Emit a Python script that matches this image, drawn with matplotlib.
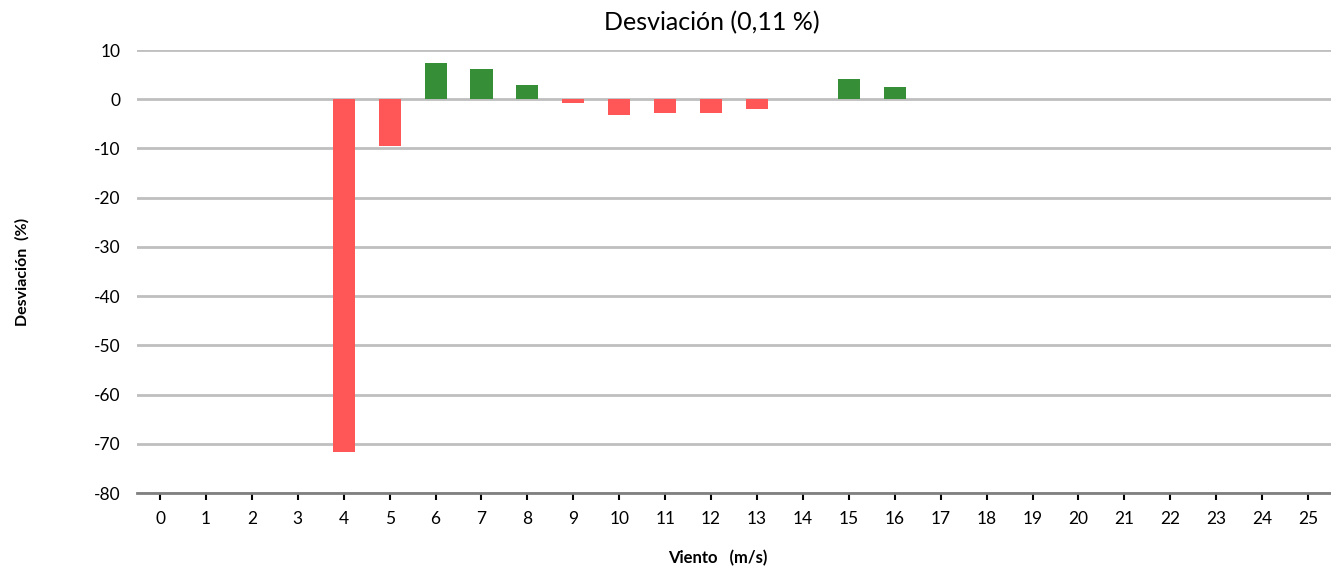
import numpy as np
import matplotlib
matplotlib.use('Agg')
import matplotlib.pyplot as plt

plt.rcParams['font.family'] = ['Lato', 'DejaVu Sans']
plt.rcParams['axes.unicode_minus'] = False

# velocidades del viento (m/s) y desviacion (%)
vientos = list(range(26))
desviacion = [0, 0, 0, 0, -71.7, -9.4, 7.3, 6.1, 2.85, -0.8, -3.3, -2.85, -2.85, -2.0,
              0, 4.1, 2.45, 0, 0, 0, 0, 0, 0, 0, 0, 0]
titulo = 'Desviación (0,11 %)'

rojo = '#ff5757'
verde = '#368e37'

fig = plt.figure(figsize=(13.31, 5.73), dpi=100)
ax = fig.add_axes([0.103, 0.1396, 0.897, 0.7731])

x = np.arange(len(vientos))
colores = [verde if v > 0 else rojo for v in desviacion]
ax.bar(x, desviacion, width=0.48, color=colores, zorder=3)

ax.set_xlim(-0.5, len(vientos) - 0.5)
ax.set_ylim(-80, 10)
ax.set_yticks(np.arange(-80, 11, 10))
ax.set_xticks(x)
ax.set_xticklabels([str(v) for v in vientos])
ax.yaxis.grid(True, color='#bfbfbf', linewidth=2, zorder=0)
ax.set_axisbelow(True)

for s in ['top', 'right', 'left']:
    ax.spines[s].set_visible(False)
ax.spines['bottom'].set_color('#808080')
ax.spines['bottom'].set_linewidth(2)
ax.spines['bottom'].set_zorder(4)

ax.tick_params(axis='y', length=0, labelsize=12.5, pad=12)
ax.tick_params(axis='x', length=5, width=1.5, color='black', labelsize=12.5, pad=8)

fig.text(0.535, 0.96, titulo, fontsize=18, ha='center', va='center')
ax.set_xlabel('Viento   (m/s)', fontsize=12, fontweight='bold')
ax.xaxis.set_label_coords(0.486, -0.128)
ax.set_ylabel('Desviación  (%)', fontsize=11.5, fontweight='bold', labelpad=46)

fig.savefig('out.png', dpi=100)
